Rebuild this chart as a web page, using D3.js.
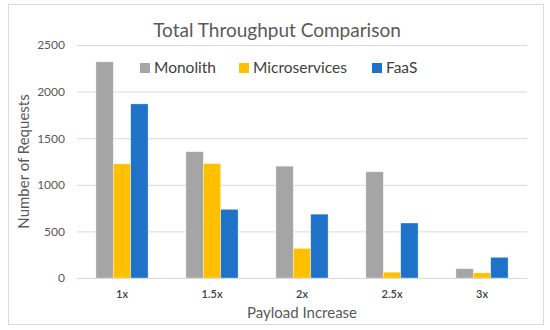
<!DOCTYPE html>
<html>
<head>
<meta charset="utf-8">
<script src="https://cdn.jsdelivr.net/npm/d3@7"></script>
<style>
  body { margin: 0; background: #fff; }
  text { font-family: Lato, "Open Sans", sans-serif; }
</style>
</head>
<body>
<svg id="chart" width="550" height="330"></svg>
<script>
const categories = ['1x', '1.5x', '2x', '2.5x', '3x'];
const seriesNames = ['Monolith', 'Microservices', 'FaaS'];
const monolith = [2320, 1355, 1200, 1140, 100];
const microservices = [1225, 1228, 318, 62, 55];
const faas = [1868, 737, 685, 590, 222];
const yTicks = [0, 500, 1000, 1500, 2000, 2500];
const colors = ['#A5A5A5', '#FFC000', '#1E73C9'];

const build = () => {
    const svg = d3.select('#chart');
    const width = 550, height = 330;
    const margin = {top: 45, right: 23, bottom: 52, left: 77};
    const innerWidth = width - margin.left - margin.right;
    const innerHeight = height - margin.top - margin.bottom;

    // outer frame
    svg.append('rect')
        .attr('x', 8.5).attr('y', 4.5)
        .attr('width', 535).attr('height', 320)
        .attr('fill', '#fff')
        .attr('stroke', '#d9d9d9');

    const data = categories.map((c, i) => ({
        cat: c,
        values: [monolith[i], microservices[i], faas[i]]
    }));

    const xScale = d3.scaleBand()
        .domain(categories)
        .range([0, innerWidth]);

    const xInner = d3.scaleBand()
        .domain(seriesNames)
        .range([xScale.bandwidth() * 0.21, xScale.bandwidth() * 0.79]);

    const yScale = d3.scaleLinear()
        .domain([0, 2500])
        .range([innerHeight, 0]);

    const g = svg.append('g')
        .attr('transform', 'translate(' + margin.left + ',' + margin.top + ')');

    // gridlines
    const grid = g.append('g')
        .call(d3.axisLeft(yScale).tickValues(yTicks).tickSize(-innerWidth).tickFormat(''));
    grid.select('.domain').remove();
    grid.selectAll('line').attr('stroke', '#d9d9d9');

    // y tick labels
    const yAxis = g.append('g')
        .call(d3.axisLeft(yScale).tickValues(yTicks).tickSize(0).tickPadding(12).tickFormat(d3.format('d')));
    yAxis.select('.domain').remove();
    yAxis.selectAll('text')
        .attr('fill', '#595959')
        .style('font-size', '12px');

    // bars
    const groups = g.selectAll('.grp')
        .data(data)
        .enter()
        .append('g')
        .attr('transform', d => 'translate(' + xScale(d.cat) + ',0)');

    groups.selectAll('rect')
        .data(d => d.values.map((v, i) => ({name: seriesNames[i], value: v, i: i})))
        .enter()
        .append('rect')
        .attr('x', d => xInner(d.name))
        .attr('y', d => yScale(d.value))
        .attr('width', xInner.bandwidth())
        .attr('height', d => innerHeight - yScale(d.value))
        .attr('fill', d => colors[d.i])
        .attr('stroke', '#ffffff')
        .attr('stroke-opacity', 0.5)
        .attr('stroke-width', 0.7);

    // x axis
    const xAxis = g.append('g')
        .attr('transform', 'translate(0,' + innerHeight + ')')
        .call(d3.axisBottom(xScale).tickSize(0).tickPadding(12));
    xAxis.select('.domain').attr('stroke', '#d9d9d9');
    xAxis.selectAll('text')
        .attr('fill', '#404040')
        .style('font-size', '11px')
        .style('font-weight', '600');

    // title
    svg.append('text')
        .attr('x', 277).attr('y', 37)
        .attr('text-anchor', 'middle')
        .attr('fill', '#595959')
        .style('font-size', '19px')
        .text('Total Throughput Comparison');

    // axis titles
    svg.append('text')
        .attr('x', margin.left + innerWidth / 2).attr('y', 318)
        .attr('text-anchor', 'middle')
        .attr('fill', '#595959')
        .style('font-size', '15px')
        .text('Payload Increase');

    svg.append('text')
        .attr('transform', 'translate(29,' + (margin.top + innerHeight / 2) + ') rotate(-90)')
        .attr('text-anchor', 'middle')
        .attr('fill', '#595959')
        .style('font-size', '15px')
        .text('Number of Requests');

    // legend
    const legendX = [140, 239, 372];
    const legend = svg.append('g');
    seriesNames.forEach((s, i) => {
        legend.append('rect')
            .attr('x', legendX[i]).attr('y', 63)
            .attr('width', 10).attr('height', 10)
            .attr('fill', colors[i]);
        legend.append('text')
            .attr('x', legendX[i] + 14).attr('y', 73)
            .attr('fill', '#404040')
            .style('font-size', '15.5px')
            .text(s);
    });
};

build();
</script>
</body>
</html>
